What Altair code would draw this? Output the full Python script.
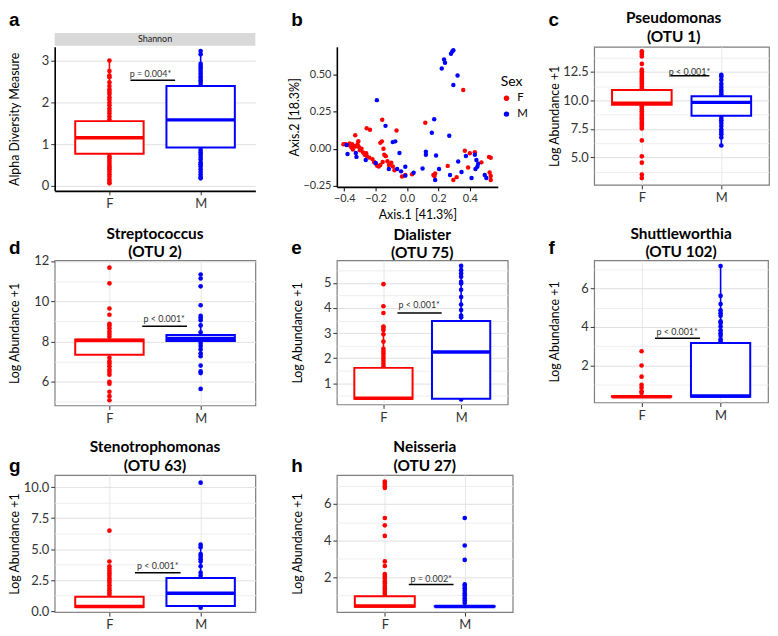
import altair as alt
import pandas as pd

FONT = "Lato"
LETTER_FONT = "Liberation Sans"
GROUPS = ["F", "M"]
GROUP_POS = [1, 2]
GROUP_COLORS = ["#ff0000", "#0000ff"]
BOX_HALF = 0.375
X_DOMAIN = [0.4, 2.6]

# ---------------- a: Shannon diversity  (box = [lower whisker, q1, median, q3, upper whisker])
SHAN_F_BOX = [0.06, 0.77, 1.15, 1.55, 3.0]
SHAN_M_BOX = [0.17, 0.92, 1.58, 2.39, 3.2]
SHAN_F_PTS = [3.0, 2.75, 2.64, 2.6, 2.48, 2.39, 2.31, 2.25, 2.2, 2.12, 2.06, 1.99, 1.93, 1.85,
              1.79, 1.73, 1.66, 1.59, 0.71, 0.66, 0.6, 0.55, 0.49, 0.44, 0.4, 0.34, 0.28, 0.22,
              0.15, 0.1, 0.06]
SHAN_M_PTS = [3.23, 3.15, 2.92, 2.86, 2.81, 2.75, 2.69, 2.63, 2.58, 2.53, 2.47, 2.41,
              0.86, 0.8, 0.75, 0.69, 0.63, 0.56, 0.52, 0.47, 0.4, 0.33, 0.27, 0.21, 0.18]
SHAN_P = ["p = 0.004*", 1.45, 2.69]
SHAN_P_LINE = [1.23, 1.72, 2.53]

# ---------------- b: PCoA
PCOA_F_X = [-0.405, -0.39, -0.375, -0.365, -0.35, -0.34, -0.355, -0.345, -0.33, -0.315, -0.305,
            -0.3, -0.29, -0.33, -0.31, -0.257, -0.236, -0.28, -0.27, -0.26, -0.255, -0.24, -0.22,
            -0.21, -0.2, -0.19, -0.18, -0.17, -0.155, -0.145, -0.135, -0.125, -0.115, -0.1, -0.09,
            -0.08, -0.17, -0.16, -0.15, -0.158, -0.067, -0.032, -0.011, 0.032, 0.116, 0.168, 0.179,
            0.175, 0.259, 0.295, 0.316, 0.358, 0.368, 0.389, 0.4, 0.432, 0.474, 0.522, 0.533,
            0.526, 0.533, 0.533]
PCOA_F_Y = [0.03, 0.03, 0.025, 0.035, 0.03, 0.02, 0.01, -0.005, 0.015, 0.03, 0.01,
            -0.01, 0.0, 0.092, 0.051, 0.139, 0.129, -0.025, -0.04, -0.03, -0.05, -0.06, -0.07,
            -0.09, -0.1, -0.115, -0.12, -0.11, -0.09, -0.04, -0.05, -0.085, -0.11, -0.095, -0.12,
            -0.145, 0.04, 0.05, 0.0, 0.196, 0.124, -0.188, -0.178, -0.173, 0.176, -0.178, -0.167,
            -0.184, -0.116, -0.212, -0.192, 0.398, -0.014, -0.127, -0.031, -0.024, -0.092, -0.055,
            -0.061, -0.161, -0.184, -0.212]
PCOA_M_X = [-0.385, -0.379, -0.326, -0.322, -0.263, -0.2, -0.192, -0.137, -0.116, -0.091, -0.075,
            -0.063, -0.048, -0.038, -0.011, -0.011, 0.042, 0.099, 0.12, 0.12, 0.158, 0.173, 0.185,
            0.179, 0.204, 0.221, 0.236, 0.242, 0.269, 0.28, 0.288, 0.295, 0.295, 0.322, 0.274,
            0.326, 0.347, 0.375, 0.411, 0.432, 0.442, 0.448, 0.436, 0.453, 0.505, 0.495]
PCOA_M_Y = [0.025, -0.035, -0.029, -0.055, -0.076, -0.096, 0.329, 0.155, -0.137, 0.045, 0.05,
            -0.137, -0.029, -0.153, -0.122, -0.182, -0.163, -0.133, -0.02, -0.041, 0.108, 0.2,
            -0.045, -0.212, -0.137, 0.543, 0.604, 0.582, 0.088, 0.643, 0.659, 0.667, 0.431, 0.496,
            -0.178, -0.086, -0.157, -0.049, -0.198, -0.041, -0.076, -0.122, -0.137, -0.102,
            -0.198, -0.178]
PCOA_X_TICKS = [-0.4, -0.2, 0.0, 0.2, 0.4]
PCOA_Y_TICKS = [-0.25, 0.0, 0.25, 0.5]

# ---------------- c: Pseudomonas (OTU 1)
PSEU_F_BOX = [7.55, 9.62, 9.75, 10.92, 12.7]
PSEU_M_BOX = [6.05, 8.66, 9.83, 10.37, 12.25]
PSEU_F_PTS = [14.3, 14.15, 14.0, 13.85, 13.2, 12.7, 12.55, 12.4, 12.25, 12.1, 11.95, 11.8, 11.65,
              11.5, 11.35, 11.2, 11.05, 9.5, 9.35, 9.2, 9.05, 8.9, 8.75, 8.6, 8.45, 8.3, 8.15,
              8.0, 7.85, 7.7, 7.55, 6.5, 5.1, 4.55, 3.5, 3.2]
PSEU_M_PTS = [12.25, 12.1, 11.8, 11.45, 11.17, 10.94, 10.74, 10.54, 8.46, 8.26, 8.03, 7.75,
              7.46, 7.24, 7.04, 6.75, 6.05]
PSEU_P = ["p < 0.001*", 1.6, 12.45]
PSEU_P_LINE = [1.36, 1.85, 12.17]

# ---------------- d: Streptococcus (OTU 2)
STRE_F_BOX = [6.35, 7.34, 8.05, 8.1, 8.88]
STRE_M_BOX = [7.61, 8.02, 8.15, 8.32, 8.8]
STRE_F_PTS = [11.67, 10.89, 9.64, 9.33, 8.88, 8.8, 8.66, 8.5, 8.37, 8.24, 7.19, 7.02, 6.9, 6.77,
              6.6, 6.48, 6.35, 6.0, 5.9, 5.5, 5.28, 5.08]
STRE_M_PTS = [11.33, 11.13, 10.74, 9.8, 9.27, 9.17, 9.05, 8.8, 8.46, 7.92, 7.78, 7.61, 7.41,
              7.27, 6.8, 6.51, 6.43, 5.64]
STRE_P = ["p < 0.001*", 1.6, 9.13]
STRE_P_LINE = [1.36, 1.85, 8.76]

# ---------------- e: Dialister (OTU 75)
DIAL_F_BOX = [0.38, 0.38, 0.40, 1.61, 3.26]
DIAL_M_BOX = [0.35, 0.38, 2.24, 3.48, 5.68]
DIAL_F_PTS = [4.95, 4.07, 3.8, 3.26, 3.2, 3.12, 2.95, 2.66, 2.37, 2.28, 2.19, 2.08, 1.98, 1.88,
              1.77, 1.67]
DIAL_M_PTS = [5.68, 5.51, 5.38, 5.25, 5.04, 4.98, 4.73, 4.44, 4.14, 3.92, 3.7, 3.63, 0.35]
DIAL_P = ["p < 0.001*", 1.46, 4.1]
DIAL_P_LINE = [1.18, 1.75, 3.8]

# ---------------- f: Shuttleworthia (OTU 102)
SHUT_F_BOX = [0.38, 0.38, 0.38, 0.40, 0.40]
SHUT_M_BOX = [0.38, 0.38, 0.42, 3.17, 7.17]
SHUT_F_PTS = [2.74, 2.0, 1.42, 1.0, 0.85, 0.66, 0.57]
SHUT_M_PTS = [7.17, 5.62, 5.19, 4.87, 4.72, 4.58, 4.3, 4.21, 4.02, 3.83, 3.68, 3.55, 3.36, 3.26]
SHUT_P = ["p < 0.001*", 1.45, 3.74]
SHUT_P_LINE = [1.17, 1.74, 3.42]

# ---------------- g: Stenotrophomonas (OTU 63)
STEN_F_BOX = [0.33, 0.33, 0.37, 1.15, 2.28]
STEN_M_BOX = [0.28, 0.41, 1.44, 2.67, 5.36]
STEN_F_PTS = [6.49, 4.0, 3.62, 3.41, 3.23, 3.05, 2.85, 2.64, 2.46, 2.28, 2.08, 1.87, 1.69, 1.49,
              1.31]
STEN_M_PTS = [10.36, 5.36, 5.15, 4.59, 4.38, 4.18, 4.0, 3.62, 3.1, 2.85, 0.28]
STEN_P = ["p < 0.001*", 1.53, 3.6]
STEN_P_LINE = [1.28, 1.78, 3.1]

# ---------------- h: Neisseria (OTU 27)
NEIS_F_BOX = [0.38, 0.38, 0.42, 0.95, 1.77]
NEIS_M_BOX = [0.40, 0.40, 0.40, 0.41, 1.6]
NEIS_F_PTS = [7.22, 7.1, 6.97, 6.87, 5.23, 4.83, 4.25, 2.86, 2.61, 2.16, 2.03, 1.91, 1.77, 1.65,
              1.51, 1.39, 1.25, 1.13, 1.02]
NEIS_M_PTS = [5.23, 3.73, 2.94, 1.6, 1.51, 1.39, 1.25, 1.11, 0.99, 0.85, 0.73, 0.59]
NEIS_P = ["p = 0.002*", 1.58, 1.91]
NEIS_P_LINE = [1.30, 1.86, 1.6]

COLOR_SCALE = alt.Scale(domain=GROUPS, range=GROUP_COLORS)


def letter_layer(letter, y):
    return alt.Chart(pd.DataFrame({"t": [letter]})).mark_text(
        align="left", baseline="top", fontSize=19, fontWeight="bold", font=LETTER_FONT,
        color="black").encode(x=alt.value(-46), y=alt.value(y), text="t:N")


def title_layer(title, width, y, dx=0):
    return alt.Chart(pd.DataFrame({"t": [title]})).mark_text(
        align="center", baseline="top", fontSize=15.5, fontWeight="bold", font=FONT,
        lineBreak="\n", lineHeight=19, color="black").encode(
        x=alt.value(width / 2 + dx), y=alt.value(y), text="t:N")


def box_panel(letter, title, ytitle, fbox, fpts, mbox, mpts, ydomain, major, minor, fmt,
              pval, pline, width, height, framed=True, letter_y=-21, title_y=-34, title_dx=0,
              strip=None):
    boxes = pd.DataFrame({
        "sex": GROUPS, "pos": GROUP_POS,
        "lo": [fbox[0], mbox[0]], "q1": [fbox[1], mbox[1]], "med": [fbox[2], mbox[2]],
        "q3": [fbox[3], mbox[3]], "hi": [fbox[4], mbox[4]],
    })
    boxes["x1"] = boxes["pos"] - BOX_HALF
    boxes["x2"] = boxes["pos"] + BOX_HALF
    pts = pd.DataFrame({"sex": ["F"] * len(fpts) + ["M"] * len(mpts),
                        "pos": [1] * len(fpts) + [2] * len(mpts),
                        "v": fpts + mpts})
    ann = pd.DataFrame({"label": [pval[0]], "tx": [pval[1]], "ty": [pval[2]],
                        "a1": [pline[0]], "a2": [pline[1]], "ay": [pline[2]]})

    major_js = "[" + ",".join(repr(float(v)) for v in major) + "]"
    is_major = f"indexof({major_js}, datum.value) >= 0"
    yaxis = alt.Axis(
        values=sorted(float(v) for v in major + minor),
        labelExpr=f"{is_major} ? format(datum.value, '{fmt}') : ''",
        labelOverlap=False, title=ytitle, titleFontSize=12.5, titleFontWeight="normal",
        titleColor="black", titlePadding=4, minExtent=29, maxExtent=29,
        labelFontSize=13, labelColor="#333333", labelPadding=2, tickSize=4, tickColor="#333333",
        tickOpacity={"condition": {"test": is_major, "value": 1}, "value": 0},
        grid=True,
        gridColor={"condition": {"test": is_major, "value": "#e0e0e0"}, "value": "#eeeeee"},
        domain=not framed, domainColor="black", domainWidth=1.6)
    groups_js = "[" + ",".join(f"'{g}'" for g in GROUPS) + "]"
    xaxis = alt.Axis(
        values=GROUP_POS, labelExpr=f"{groups_js}[datum.value - 1]", title=None,
        labelFontSize=13, labelColor="#333333", labelPadding=3, tickSize=4, tickColor="#333333",
        grid=framed, gridColor="#e6e6e6", domain=not framed, domainColor="black", domainWidth=1.6)

    def X(field):
        return alt.X(f"{field}:Q", scale=alt.Scale(domain=X_DOMAIN, nice=False, zero=False),
                     axis=xaxis)

    def Y(field):
        return alt.Y(f"{field}:Q", scale=alt.Scale(domain=ydomain, nice=False, zero=False),
                     axis=yaxis)

    col = alt.Color("sex:N", scale=COLOR_SCALE, legend=None)
    whisk = alt.Chart(boxes).mark_rule(strokeWidth=1.6).encode(
        x=X("pos"), y=Y("lo"), y2="hi:Q", color=col)
    dots = alt.Chart(pts).mark_circle(size=22, opacity=1).encode(x=X("pos"), y=Y("v"), color=col)
    box = alt.Chart(boxes).mark_rect(fill="white", strokeWidth=2).encode(
        x=X("x1"), x2="x2:Q", y=Y("q1"), y2="q3:Q",
        stroke=alt.Stroke("sex:N", scale=COLOR_SCALE, legend=None))
    med = alt.Chart(boxes).mark_rule(strokeWidth=3.5).encode(
        x=X("x1"), x2="x2:Q", y=Y("med"), color=col)
    pl = alt.Chart(ann).mark_rule(color="black", strokeWidth=1.5).encode(
        x=X("a1"), x2="a2:Q", y=Y("ay"))
    ptxt = alt.Chart(ann).mark_text(fontSize=9, color="#333333", font=FONT).encode(
        x=X("tx"), y=Y("ty"), text="label:N")
    layers = [whisk, dots, box, med, pl, ptxt, letter_layer(letter, letter_y)]
    if title:
        layers.append(title_layer(title, width, title_y, title_dx))
    if strip:
        sdf = pd.DataFrame({"t": [strip]})
        layers.append(alt.Chart(sdf).mark_rect(fill="#d9d9d9").encode(
            x=alt.value(0), x2=alt.value(width), y=alt.value(-14), y2=alt.value(-1)))
        layers.append(alt.Chart(sdf).mark_text(fontSize=9, font=FONT, color="#1a1a1a").encode(
            x=alt.value(width / 2), y=alt.value(-7.5), text="t:N"))
    return alt.layer(*layers).properties(
        width=width, height=height,
        view=alt.ViewBackground(stroke="#7f7f7f" if framed else "transparent", strokeWidth=1.2))


# ---- panel b (scatter)
pcoa = pd.DataFrame({"sex": ["F"] * len(PCOA_F_X) + ["M"] * len(PCOA_M_X),
                     "ax1": PCOA_F_X + PCOA_M_X, "ax2": PCOA_F_Y + PCOA_M_Y})
b_x = alt.X("ax1:Q", scale=alt.Scale(domain=[-0.447, 0.578], nice=False, zero=False),
            axis=alt.Axis(values=PCOA_X_TICKS, format=".1f", title="Axis.1 [41.3%]", grid=False,
                          domainColor="black", domainWidth=1.6, tickColor="black", tickSize=4,
                          labelFontSize=11, labelColor="#333333", labelPadding=2,
                          titleFontSize=12.5, titleFontWeight="normal", titleColor="black",
                          titlePadding=5, labelFlush=False))
b_y = alt.Y("ax2:Q", scale=alt.Scale(domain=[-0.258, 0.69], nice=False, zero=False),
            axis=alt.Axis(values=PCOA_Y_TICKS, format=".2f", title="Axis.2 [18.3%]", grid=False,
                          domainColor="black", domainWidth=1.6, tickColor="black", tickSize=4,
                          labelFontSize=11, labelColor="#333333", labelPadding=2,
                          minExtent=31, maxExtent=31, titlePadding=5, labelFlush=False,
                          titleFontSize=12.5, titleFontWeight="normal", titleColor="black"))
b_pts = alt.Chart(pcoa).mark_circle(size=20, opacity=1).encode(
    x=b_x, y=b_y,
    color=alt.Color("sex:N", scale=COLOR_SCALE,
                    legend=alt.Legend(title="Sex", orient="none", legendX=165, legendY=28,
                                      titleFontSize=14, titleFontWeight="normal",
                                      titleColor="black", labelFontSize=11.5, labelColor="black",
                                      symbolType="circle", symbolSize=30, rowPadding=3,
                                      titlePadding=4, padding=0, labelOffset=5)))
panel_b = alt.layer(b_pts, letter_layer("b", -36)).properties(
    width=162, height=141, view=alt.ViewBackground(stroke="transparent"))

panel_a = box_panel("a", None, "Alpha Diversity Measure", SHAN_F_BOX, SHAN_F_PTS, SHAN_M_BOX,
                    SHAN_M_PTS, [-0.12, 3.33], [0, 1, 2, 3], [], "d", SHAN_P, SHAN_P_LINE,
                    202, 145, framed=False, letter_y=-36, strip="Shannon")
panel_c = box_panel("c", "Pseudomonas\n(OTU 1)", "Log Abundance +1", PSEU_F_BOX, PSEU_F_PTS,
                    PSEU_M_BOX, PSEU_M_PTS, [2.6, 14.7], [5, 7.5, 10, 12.5],
                    [3.75, 6.25, 8.75, 11.25, 13.75], ".1f", PSEU_P, PSEU_P_LINE, 176, 139,
                    letter_y=-36, title_y=-36, title_dx=-8)
panel_d = box_panel("d", "Streptococcus\n(OTU 2)", "Log Abundance +1", STRE_F_BOX, STRE_F_PTS,
                    STRE_M_BOX, STRE_M_PTS, [4.82, 12.03], [6, 8, 10, 12], [5, 7, 9, 11], "d",
                    STRE_P, STRE_P_LINE, 202, 146)
panel_e = box_panel("e", "Dialister\n(OTU 75)", "Log Abundance +1", DIAL_F_BOX, DIAL_F_PTS,
                    DIAL_M_BOX, DIAL_M_PTS, [0.15, 5.9], [1, 2, 3, 4, 5],
                    [0.5, 1.5, 2.5, 3.5, 4.5, 5.5], "d", DIAL_P, DIAL_P_LINE, 172, 145,
                    title_y=-33)
panel_f = box_panel("f", "Shuttleworthia\n(OTU 102)", "Log Abundance +1", SHUT_F_BOX,
                    SHUT_F_PTS, SHUT_M_BOX, SHUT_M_PTS, [0.08, 7.46], [2, 4, 6], [1, 3, 5, 7],
                    "d", SHUT_P, SHUT_P_LINE, 175, 143)
panel_g = box_panel("g", "Stenotrophomonas\n(OTU 63)", "Log Abundance +1", STEN_F_BOX,
                    STEN_F_PTS, STEN_M_BOX, STEN_M_PTS, [-0.08, 10.98], [0, 2.5, 5, 7.5, 10],
                    [1.25, 3.75, 6.25, 8.75], ".1f", STEN_P, STEN_P_LINE, 202, 138,
                    letter_y=-18, title_y=-35)
panel_h = box_panel("h", "Neisseria\n(OTU 27)", "Log Abundance +1", NEIS_F_BOX, NEIS_F_PTS,
                    NEIS_M_BOX, NEIS_M_PTS, [0.09, 7.58], [2, 4, 6], [1, 3, 5, 7], "d",
                    NEIS_P, NEIS_P_LINE, 177, 138, letter_y=-18, title_y=-35)

chart = alt.concat(
    panel_a, panel_b, panel_c, panel_d, panel_e, panel_f, panel_g, panel_h,
    columns=3, spacing={"row": 70, "column": 82}, bounds="flush",
).resolve_scale(color="independent").properties(
    padding=0, background="white"
).configure_axis(labelFont=FONT, titleFont=FONT).configure_legend(
    labelFont=FONT, titleFont=FONT)

chart.save("out.html", embed_options={"renderer": "svg", "actions": False})
